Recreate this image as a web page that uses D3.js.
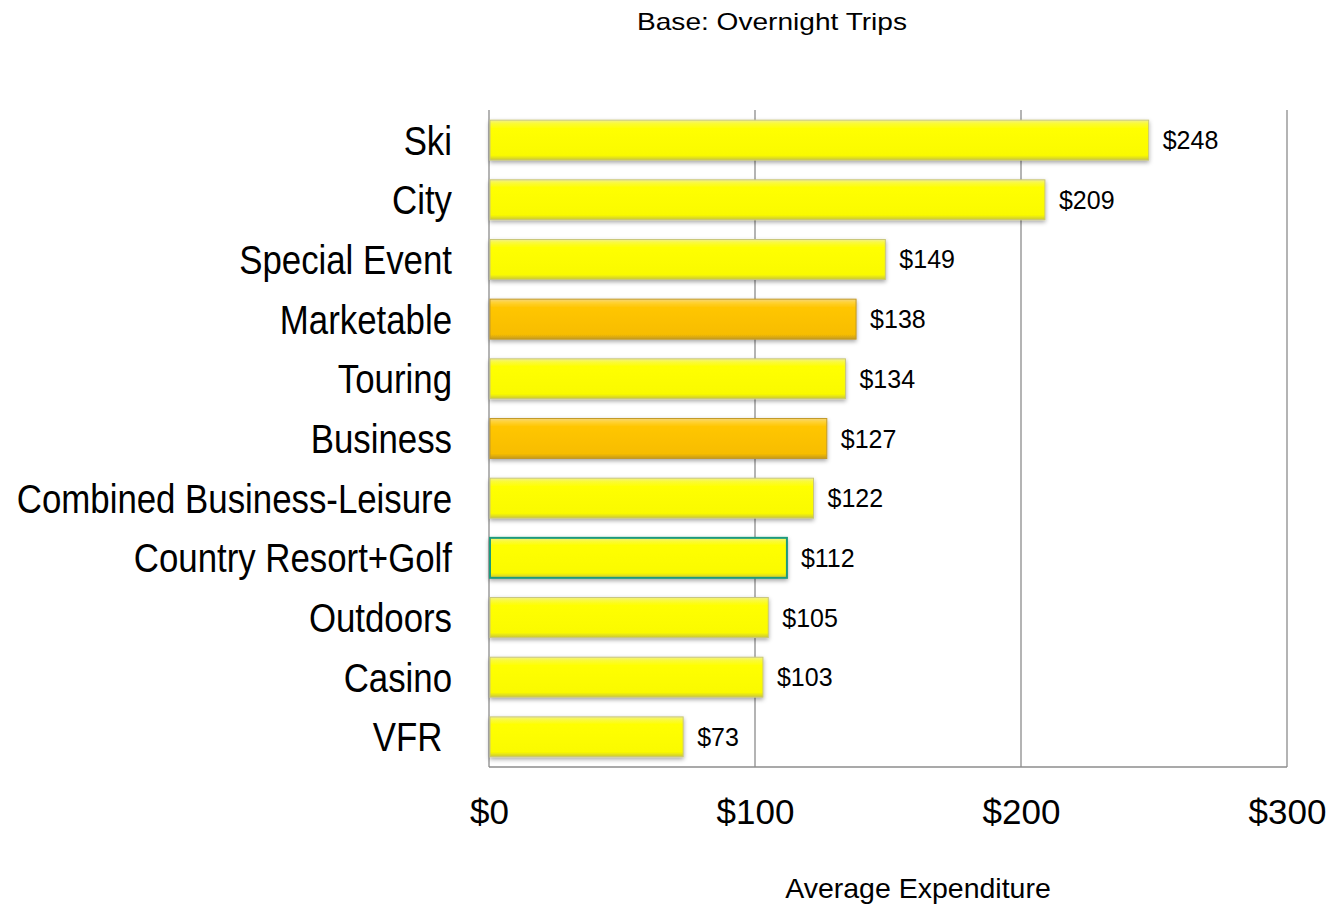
<!DOCTYPE html>
<html>
<head>
<meta charset="utf-8">
<script src="https://cdn.jsdelivr.net/npm/d3@7"></script>
<style>
  body { margin: 0; background: #fff; }
  svg { display: block; }
</style>
</head>
<body>
<svg id="chart"></svg>
<script>
// chart data
const categories = ['Ski', 'City', 'Special Event', 'Marketable', 'Touring', 'Business',
    'Combined Business-Leisure', 'Country Resort+Golf', 'Outdoors', 'Casino', 'VFR '];
const values = [248, 209, 149, 138, 134, 127, 122, 112, 105, 103, 73];
const highlighted = ['Marketable', 'Business'];
const outlined = ['Country Resort+Golf'];
const tickValues = [0, 100, 200, 300];

const width = 1332, height = 910;
const margin = { top: 110, right: 45, bottom: 143, left: 489 };
const innerW = width - margin.left - margin.right;
const innerH = height - margin.top - margin.bottom;

const data = categories.map((c, i) => ({ label: c, value: values[i] }));

const svg = d3.select('#chart')
    .attr('width', width)
    .attr('height', height);

const defs = svg.append('defs');

function addGradient(id, stops) {
    const g = defs.append('linearGradient')
        .attr('id', id)
        .attr('x1', 0).attr('y1', 0).attr('x2', 0).attr('y2', 1);
    stops.forEach(s => g.append('stop').attr('offset', s[0]).attr('stop-color', s[1]));
}
addGradient('yellowGrad', [[0, '#f2f08a'], [0.08, '#fafa3a'], [0.2, '#ffff00'], [0.88, '#fafa00'], [1, '#c9c63c']]);
addGradient('orangeGrad', [[0, '#f5d67a'], [0.08, '#ffd236'], [0.2, '#ffc600'], [0.88, '#f7bd00'], [1, '#c49a1c']]);

const shadow = defs.append('filter')
    .attr('id', 'shadow')
    .attr('x', '-5%').attr('y', '-20%').attr('width', '110%').attr('height', '160%');
shadow.append('feDropShadow')
    .attr('dx', 0).attr('dy', 2).attr('stdDeviation', 2)
    .attr('flood-color', '#000').attr('flood-opacity', 0.35);

const chart = svg.append('g')
    .attr('transform', `translate(${margin.left}, ${margin.top})`);

const xscale = d3.scaleLinear()
    .domain([0, 300])
    .range([0, innerW]);

const yscale = d3.scaleBand()
    .domain(categories)
    .range([0, innerH])
    .paddingInner(0.33)
    .paddingOuter(0.17);

// vertical gridlines
chart.selectAll('.grid')
    .data(tickValues)
    .join('line')
    .attr('class', 'grid')
    .attr('x1', d => xscale(d)).attr('x2', d => xscale(d))
    .attr('y1', 0).attr('y2', innerH)
    .attr('stroke', '#8c8c8c')
    .attr('stroke-width', 1.3);

// bottom line
chart.append('line')
    .attr('x1', 0).attr('x2', innerW)
    .attr('y1', innerH).attr('y2', innerH)
    .attr('stroke', '#8c8c8c')
    .attr('stroke-width', 1.3);

// x axis tick labels
const xaxis = d3.axisBottom(xscale)
    .tickValues(tickValues)
    .tickFormat(d => '$' + d)
    .tickSize(0)
    .tickPadding(32);

const xaxisGroup = chart.append('g')
    .attr('transform', `translate(0, ${innerH})`)
    .call(xaxis);
xaxisGroup.select('.domain').remove();
xaxisGroup.selectAll('text')
    .attr('font-family', 'Liberation Sans, Arial, sans-serif')
    .attr('font-size', 35)
    .attr('fill', '#000');

// y axis labels (narrow face, squeezed horizontally)
const labelPad = 37;
const yaxis = d3.axisLeft(yscale)
    .tickSize(0)
    .tickPadding(labelPad);
const yaxisGroup = chart.append('g').call(yaxis);
yaxisGroup.select('.domain').remove();
yaxisGroup.selectAll('text')
    .attr('font-family', "'Liberation Sans Narrow', 'Arial Narrow', 'Liberation Sans', sans-serif")
    .attr('font-size', 40)
    .attr('fill', '#000')
    .attr('x', 0)
    .attr('dy', '0.36em')
    .style('white-space', 'pre')
    .attr('transform', `translate(${-labelPad}, 0) scale(0.87, 1)`);

// bars
chart.selectAll('.bar')
    .data(data)
    .join('rect')
    .attr('class', 'bar')
    .attr('x', 1)
    .attr('y', d => yscale(d.label))
    .attr('width', d => xscale(d.value) - 1)
    .attr('height', yscale.bandwidth())
    .attr('fill', d => highlighted.includes(d.label) ? 'url(#orangeGrad)' : 'url(#yellowGrad)')
    .attr('stroke', d => outlined.includes(d.label) ? '#1f9a7c' : (highlighted.includes(d.label) ? '#c29a2a' : '#c9c77a'))
    .attr('stroke-width', d => outlined.includes(d.label) ? 2 : 1)
    .attr('filter', 'url(#shadow)');

// value labels
chart.selectAll('.value')
    .data(data)
    .join('text')
    .attr('class', 'value')
    .attr('x', d => xscale(d.value) + 14)
    .attr('y', d => yscale(d.label) + yscale.bandwidth() / 2)
    .attr('dy', '0.36em')
    .attr('font-family', 'Liberation Sans, Arial, sans-serif')
    .attr('font-size', 25)
    .text(d => '$' + d.value);

// title and axis title
svg.append('text')
    .attr('x', 772)
    .attr('y', 30)
    .attr('text-anchor', 'middle')
    .attr('font-family', 'Liberation Sans, Arial, sans-serif')
    .attr('font-size', 24)
    .attr('textLength', 270)
    .attr('lengthAdjust', 'spacingAndGlyphs')
    .text('Base: Overnight Trips');

svg.append('text')
    .attr('x', 918)
    .attr('y', 898)
    .attr('text-anchor', 'middle')
    .attr('font-family', 'Liberation Sans, Arial, sans-serif')
    .attr('font-size', 28.5)
    .text('Average Expenditure');
</script>
</body>
</html>
